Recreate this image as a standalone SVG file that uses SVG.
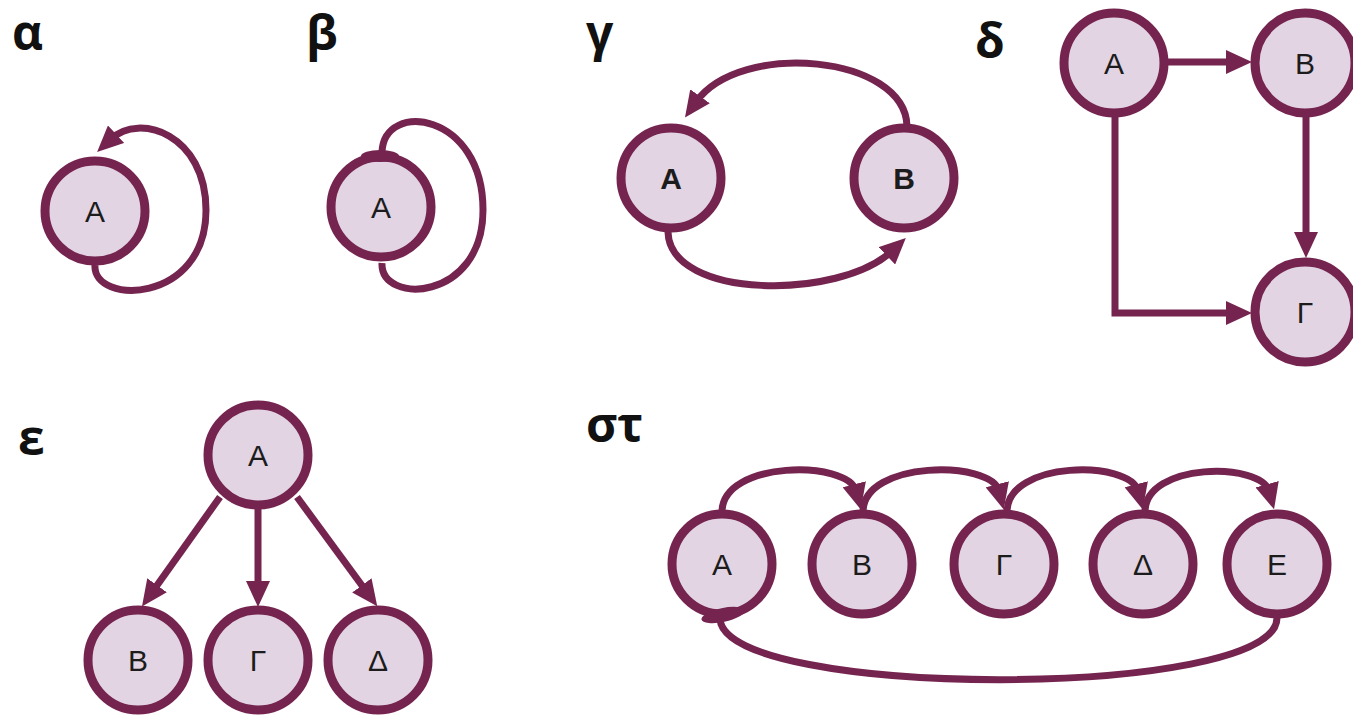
<svg xmlns="http://www.w3.org/2000/svg" width="1353" height="717" viewBox="0 0 1353 717">
  <style>
    .node circle { fill: #e2d4e3; stroke: #74244f; stroke-width: 9; }
    .node text { font-family: "Liberation Sans", Arial, sans-serif; font-size: 30px; fill: #1c1c1c; text-anchor: middle; }
    .node text.bold { font-weight: bold; }
    .title { font-family: "Open Sans", "DejaVu Sans", sans-serif; font-weight: bold; font-size: 48px; fill: #111; }
    .edge { fill: none; stroke: #74244f; stroke-width: 7; }
    .arrow { marker-end: url(#head); }
    .blob { fill: #74244f; }
  </style>
  <defs>
    <marker id="head" markerUnits="userSpaceOnUse" markerWidth="26" markerHeight="24" viewBox="0 0 26 24" refX="7" refY="12" orient="auto">
      <path d="M0,0 L26,12 L0,24 z" fill="#74244f"/>
    </marker>
  </defs>

  <rect width="1353" height="717" fill="#ffffff"/>

  <!-- panel titles -->
  <g id="titles">
    <text class="title" x="12" y="50">α</text>
    <text class="title" x="306" y="50">β</text>
    <text class="title" x="586" y="50">γ</text>
    <text class="title" x="975" y="58">δ</text>
    <text class="title" x="18" y="455">ε</text>
    <text class="title" x="586" y="442">στ</text>
  </g>

  <!-- α -->
  <g id="alpha-A" class="node"><circle cx="95" cy="211" r="50"/><text x="95" y="222">Α</text></g>

  <!-- β -->
  <g id="beta-A" class="node"><circle cx="381" cy="207" r="50"/><text x="381" y="218">Α</text></g>

  <!-- γ -->
  <g id="gamma-A" class="node"><circle cx="671" cy="178" r="50"/><text class="bold" x="671" y="189">Α</text></g>
  <g id="gamma-B" class="node"><circle cx="904" cy="178" r="50"/><text class="bold" x="904" y="189">Β</text></g>

  <!-- δ -->
  <g id="delta-A" class="node"><circle cx="1114" cy="63" r="50"/><text x="1114" y="74">Α</text></g>
  <g id="delta-B" class="node"><circle cx="1305" cy="63" r="50"/><text x="1305" y="74">Β</text></g>
  <g id="delta-G" class="node"><circle cx="1305" cy="312" r="50"/><text x="1305" y="323">Γ</text></g>

  <!-- ε -->
  <g id="eps-A" class="node"><circle cx="258" cy="455" r="50"/><text x="258" y="466">Α</text></g>
  <g id="eps-B" class="node"><circle cx="138" cy="660" r="50"/><text x="138" y="671">Β</text></g>
  <g id="eps-G" class="node"><circle cx="258" cy="660" r="50"/><text x="258" y="671">Γ</text></g>
  <g id="eps-D" class="node"><circle cx="378" cy="660" r="50"/><text x="378" y="671">Δ</text></g>

  <!-- στ -->
  <g id="st-A" class="node"><circle cx="722" cy="564" r="50"/><text x="722" y="575">Α</text></g>
  <g id="st-B" class="node"><circle cx="862" cy="564" r="50"/><text x="862" y="575">Β</text></g>
  <g id="st-G" class="node"><circle cx="1004" cy="564" r="50"/><text x="1004" y="575">Γ</text></g>
  <g id="st-D" class="node"><circle cx="1143" cy="564" r="50"/><text x="1143" y="575">Δ</text></g>
  <g id="st-E" class="node"><circle cx="1277" cy="564" r="50"/><text x="1277" y="575">Ε</text></g>

  <!-- connectors -->
  <g id="connectors">
    <!-- α: self loop -->
    <path class="edge arrow" d="M95 265 C92 305, 206 305, 206 210 C206 135, 140 112, 111 139"/>
    <!-- β: self loop, head hidden under the ring -->
    <path class="edge" d="M382 263 C380 305, 483 302, 483 210 C483 112, 384 100, 382 152"/>
    <ellipse class="blob" cx="380" cy="156" rx="19" ry="6"/>
    <!-- γ -->
    <path class="edge arrow" d="M907 126 C905 55, 740 40, 696 102"/>
    <path class="edge arrow" d="M668 232 C670 300, 840 300, 892 251"/>
    <!-- δ -->
    <path class="edge arrow" d="M1167 62 H1233"/>
    <path class="edge arrow" d="M1306 116 V239"/>
    <path class="edge arrow" d="M1115 116 V313 H1233"/>
    <!-- ε -->
    <path class="edge arrow" d="M220 497 L153 591"/>
    <path class="edge arrow" d="M258 508 V588"/>
    <path class="edge arrow" d="M297 497 L366 591"/>
    <!-- στ: chain over the top -->
    <path class="edge arrow" d="M722 512 C722 460, 848 460, 856 491"/>
    <path class="edge arrow" d="M863 512 C863 460, 991 460, 999 491"/>
    <path class="edge arrow" d="M1007 512 C1007 460, 1130 460, 1138 491"/>
    <path class="edge arrow" d="M1145 512 C1145 462, 1261 462, 1269 491"/>
    <!-- στ: return from E to A, head hidden under the ring -->
    <path class="edge" d="M1277 618 C1277 700, 725 700, 720 619"/>
    <ellipse class="blob" cx="723" cy="615" rx="22" ry="7" transform="rotate(-12 723 615)"/>
  </g>
</svg>
